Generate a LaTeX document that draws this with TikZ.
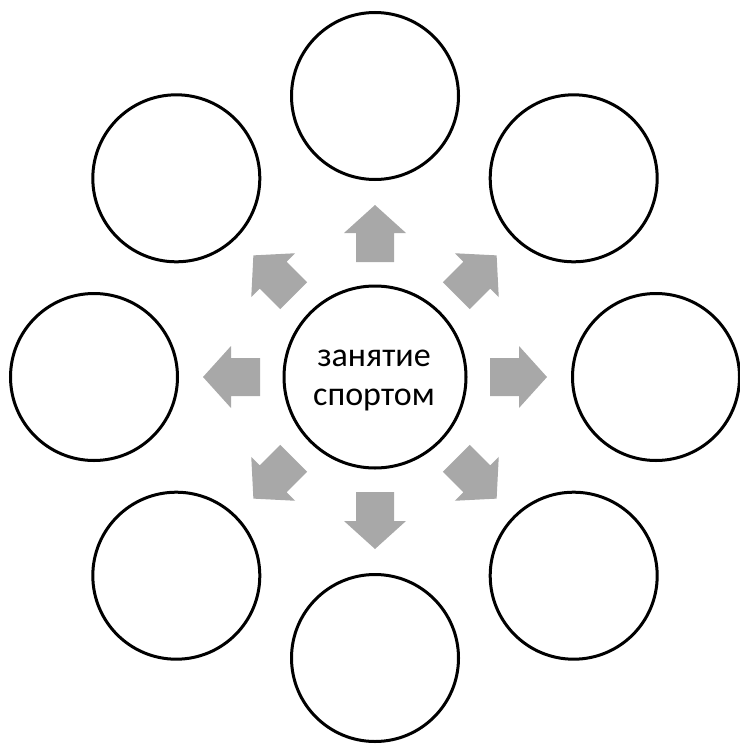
\documentclass[tikz,border=0pt]{standalone}
\usepackage{fontspec}
\setmainfont{Carlito}
\usetikzlibrary{calc}
\definecolor{arrowgray}{RGB}{168,168,168}
\tikzset{
  outercirc/.style={circle, draw=black, line width=3pt, minimum size=167pt, inner sep=0pt},
  centercirc/.style={circle, draw=black, line width=3pt, minimum size=182pt, inner sep=0pt},
  centertext/.style={align=center, inner sep=0pt, font=\fontsize{34}{39}\selectfont},
  blockarrow/.style={fill=arrowgray, draw=none}
}
\begin{document}
\begin{tikzpicture}[x=1pt,y=-1pt]
\useasboundingbox (0,0) rectangle (739,744);
\coordinate (c) at (375,377);
\node[centercirc] (center) at (c) {};
\node[centertext] (label) at ($(c)+(-1,3)$) {занятие\\спортом};
\foreach \a/\n in {90/top,45/topright,0/right,-45/bottomright,-90/bottom,-135/bottomleft,180/left,135/topleft}{
  \node[outercirc] (\n) at ($(c)+(\a:281 and -281)$) {};
  \begin{scope}[shift={(c)}, rotate=-\a]
    \fill[blockarrow] (115,-19) -- (144,-19) -- (144,-31) -- (172,0) -- (144,31) -- (144,19) -- (115,19) -- cycle;
  \end{scope}
}
\end{tikzpicture}
\end{document}
